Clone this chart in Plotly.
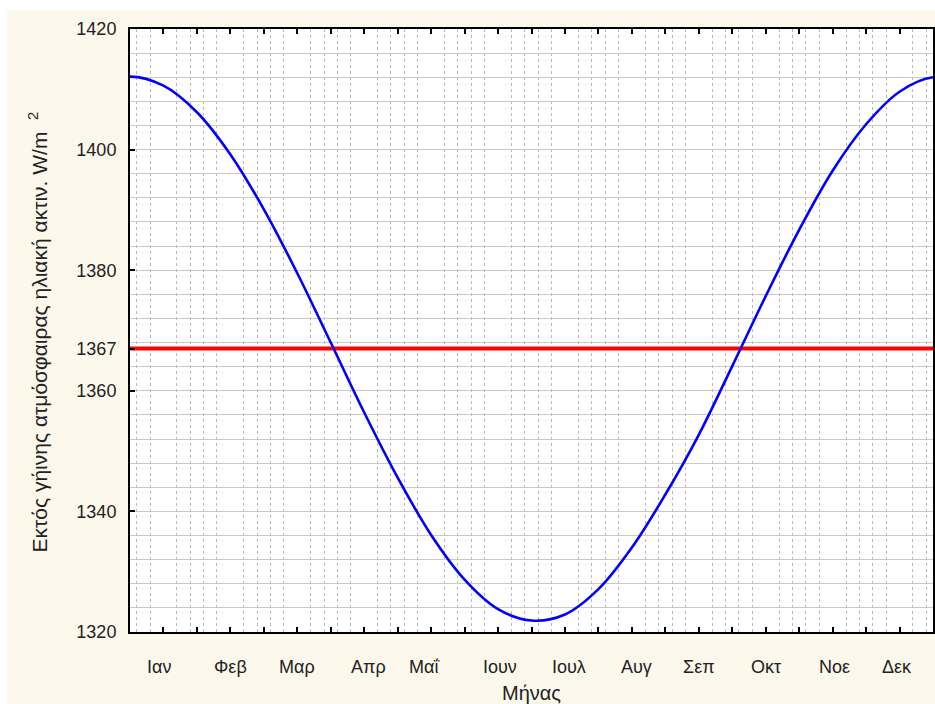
import plotly.graph_objects as go

# ---- data ----
day = [-15, 0, 15, 30, 45, 60, 75, 90, 105, 120, 135, 150, 165, 180,
       195, 210, 225, 240, 255, 270, 285, 300, 315, 330, 345, 360, 375]
irradiance = [1410.6, 1412.1, 1410.6, 1406.2, 1399.2, 1390.1, 1379.5, 1368.0,
              1356.4, 1345.6, 1336.1, 1328.7, 1323.8, 1321.9, 1322.9, 1327.1,
              1334.0, 1342.8, 1352.7, 1364.1, 1375.7, 1386.7, 1396.5, 1404.2,
              1409.6, 1412.0, 1410.9]
solar_constant = 1367
x_range = [0, 360]
y_ticks = [1320, 1340, 1360, 1367, 1380, 1400, 1420]
month_labels = ["Ιαν", "Φεβ", "Μαρ", "Απρ", "Μαΐ", "Ιουν",
                "Ιουλ", "Αυγ", "Σεπ", "Οκτ", "Νοε", "Δεκ"]
month_label_pos = [13, 45, 75, 107, 132, 166, 197, 227, 255, 285, 316, 344]

FONT = "Liberation Sans, Arial, sans-serif"
CREAM = "#fdf8ec"
TXT = "#222"

fig = go.Figure()
fig.add_trace(go.Scatter(x=x_range, y=[solar_constant] * 2, mode="lines",
                         line=dict(color="#ff0000", width=4), hoverinfo="skip"))
fig.add_trace(go.Scatter(x=day, y=irradiance, mode="lines",
                         line=dict(color="#0000ff", width=2.6, shape="spline"),
                         hoverinfo="skip"))

W, H = 935, 704
L, R, T, B = 130, 0, 29, 72
pw, ph = W - L - R, H - T - B

# white strips above / left of the cream page
fig.add_shape(type="rect", xref="paper", yref="paper", layer="below",
              x0=-L / pw - 0.01, x1=1.05, y0=1 + (T - 10) / ph, y1=1 + T / ph + 0.01,
              fillcolor="white", line=dict(width=0))
fig.add_shape(type="rect", xref="paper", yref="paper", layer="below",
              x0=-L / pw - 0.01, x1=(7 - L) / pw, y0=-B / ph - 0.01, y1=1 + T / ph + 0.01,
              fillcolor="white", line=dict(width=0))

for lab, pos in zip(month_labels, month_label_pos):
    fig.add_annotation(x=pos, y=-(667 - (H - B)) / ph, xref="x", yref="paper",
                       text=lab, showarrow=False, yanchor="middle",
                       font=dict(family=FONT, size=18, color=TXT))

fig.add_annotation(x=(38 - L) / pw, y=0.497, xref="paper", yref="paper",
                   text="Εκτός γήινης ατμόσφαιρας ηλιακή ακτιν. W/m  <sup>2</sup>",
                   textangle=-90, showarrow=False, xanchor="center", yanchor="middle",
                   font=dict(family=FONT, size=21, color=TXT))

fig.update_layout(
    width=W, height=H,
    margin=dict(l=L, r=R, t=T, b=B, pad=0),
    paper_bgcolor=CREAM, plot_bgcolor="white",
    showlegend=False,
    font=dict(family=FONT, size=18, color=TXT),
    xaxis=dict(
        range=x_range, dtick=15, tick0=0, showticklabels=False,
        ticks="inside", ticklen=5, tickwidth=2, tickcolor="black",
        showline=True, linecolor="black", linewidth=2, mirror="allticks",
        showgrid=False, zeroline=False,
        minor=dict(dtick=6, tick0=3, showgrid=True, gridcolor="#b8b8b8",
                   griddash="dot", gridwidth=1, ticks=""),
        title=dict(text="Μήνας", font=dict(family=FONT, size=20, color=TXT),
                   standoff=56),
    ),
    yaxis=dict(
        range=[1320, 1420], tickmode="array", tickvals=y_ticks,
        ticks="inside", ticklen=5, tickwidth=2, tickcolor="black",
        ticklabelstandoff=8,
        showline=True, linecolor="black", linewidth=2, mirror=True,
        showgrid=True, gridcolor="#cacaca", gridwidth=1, zeroline=False,
        minor=dict(dtick=4, tick0=1320, showgrid=True, gridcolor="#cacaca",
                   gridwidth=1, ticks=""),
        tickfont=dict(family=FONT, size=18, color=TXT),
    ),
)

fig.write_html("out.html")
